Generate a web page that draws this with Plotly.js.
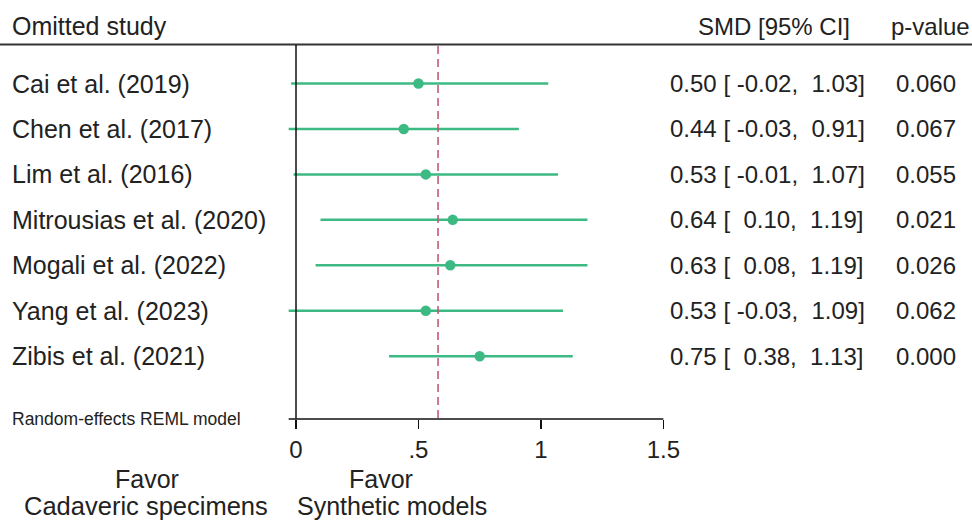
<!DOCTYPE html>
<html>
<head>
<meta charset="utf-8">
<script src="https://cdn.plot.ly/plotly-3.0.1.min.js"></script>
<style>html,body{margin:0;padding:0;background:#fff;}#chart{width:972px;height:521px;}</style>
</head>
<body>
<div id="chart"></div>
<script>
// ---- data ----
const studies = ["Cai et al. (2019)", "Chen et al. (2017)", "Lim et al. (2016)", "Mitrousias et al. (2020)", "Mogali et al. (2022)", "Yang et al. (2023)", "Zibis et al. (2021)"];
const smd = [0.50, 0.44, 0.53, 0.64, 0.63, 0.53, 0.75];
const ciLow = [-0.02, -0.03, -0.01, 0.10, 0.08, -0.03, 0.38];
const ciHigh = [1.03, 0.91, 1.07, 1.19, 1.19, 1.09, 1.13];
const pValues = ["0.060", "0.067", "0.055", "0.021", "0.026", "0.062", "0.000"];
const overall = 0.58;
const tickVals = [0, 0.5, 1, 1.5];
const tickText = ["0", ".5", "1", "1.5"];
const headers = {study: "Omitted study", smd: "SMD [95% CI]", p: "p-value"};
const modelNote = "Random-effects REML model";
const favorLeft = ["Favor", "Cadaveric specimens"];
const favorRight = ["Favor", "Synthetic models"];

// ---- layout helpers ----
const W = 972, H = 521;
const px = x => x / W;
const py = y => 1 - y / H;
const green = "#3dba83";
const txt = "#222222";
const FONT = "Liberation Sans, Arial, sans-serif";
const NB = "\u00a0";
const fmt = v => (v < 0 ? "-" : NB) + Math.abs(v).toFixed(2);

const rows = studies.map((_, i) => i + 1);
const lineX = [], lineY = [];
studies.forEach((_, i) => { lineX.push(ciLow[i], ciHigh[i], null); lineY.push(rows[i], rows[i], null); });

const traces = [
  {x: lineX, y: lineY, mode: "lines", line: {color: green, width: 2.5}, hoverinfo: "skip", showlegend: false},
  {x: smd, y: rows, mode: "markers", marker: {color: green, size: 10.5}, showlegend: false, cliponaxis: false}
];

const ann = (x, y, yref, text, anchor, size) => ({x: x, xref: "paper", y: y, yref: yref, text: text, showarrow: false,
  xanchor: anchor, yanchor: "middle", borderpad: 0, font: {family: FONT, size: size, color: txt}});

const annotations = [];
studies.forEach((s, i) => {
  annotations.push(ann(px(11), rows[i], "y", s, "left", 25));
  const ci = smd[i].toFixed(2) + " [" + NB + fmt(ciLow[i]) + "," + NB + NB + ciHigh[i].toFixed(2) + "]";
  annotations.push(ann(px(669), rows[i], "y", ci, "left", 24));
  annotations.push(ann(px(895), rows[i], "y", pValues[i], "left", 24));
});
annotations.push(ann(px(11), py(26), "paper", headers.study, "left", 25));
annotations.push(ann(px(851), py(26), "paper", headers.smd, "right", 24));
annotations.push(ann(px(971), py(26), "paper", headers.p, "right", 24));
annotations.push(ann(px(11), py(419), "paper", modelNote, "left", 17.5));
annotations.push(ann(px(147), py(479), "paper", favorLeft[0], "center", 25));
annotations.push(ann(px(146), py(506), "paper", favorLeft[1], "center", 25.5));
annotations.push(ann(px(381), py(479), "paper", favorRight[0], "center", 25));
annotations.push(ann(px(392), py(506), "paper", favorRight[1], "center", 25));

const shapes = [
  // header rule
  {type: "line", xref: "paper", yref: "paper", x0: 0, x1: 1, y0: py(44.5), y1: py(44.5), line: {color: "#333", width: 2}},
  // vertical null line
  {type: "line", xref: "x", yref: "paper", x0: 0, x1: 0, y0: py(45), y1: py(419), line: {color: "#111", width: 1.5}},
  // x axis line
  {type: "line", xref: "x", yref: "paper", x0: -0.03, x1: 1.5, y0: py(419), y1: py(419), line: {color: "#111", width: 1.5}},
  // overall estimate
  {type: "line", xref: "x", yref: "paper", x0: overall, x1: overall, y0: py(46), y1: py(419), line: {color: "#c2506c", width: 1.5, dash: "8px,5px"}}
];

const layout = {
  width: W, height: H,
  margin: {l: 0, r: 0, t: 0, b: 0, pad: 0},
  paper_bgcolor: "#fff", plot_bgcolor: "#fff",
  showlegend: false,
  xaxis: {range: [-296 / 244.9, (W - 296) / 244.9], anchor: "free", position: py(419), tickvals: tickVals, ticktext: tickText,
          ticks: "outside", ticklen: 9, tickwidth: 1.5, tickcolor: "#111", showline: false, showgrid: false, zeroline: false,
          tickfont: {family: FONT, size: 24, color: txt}, fixedrange: true},
  yaxis: {range: [1 + (H - 83.5) / 45.45, 1 - 83.5 / 45.45], visible: false, showgrid: false, zeroline: false, fixedrange: true},
  shapes: shapes,
  annotations: annotations
};

Plotly.newPlot("chart", traces, layout, {staticPlot: true, displayModeBar: false});
</script>
</body>
</html>
